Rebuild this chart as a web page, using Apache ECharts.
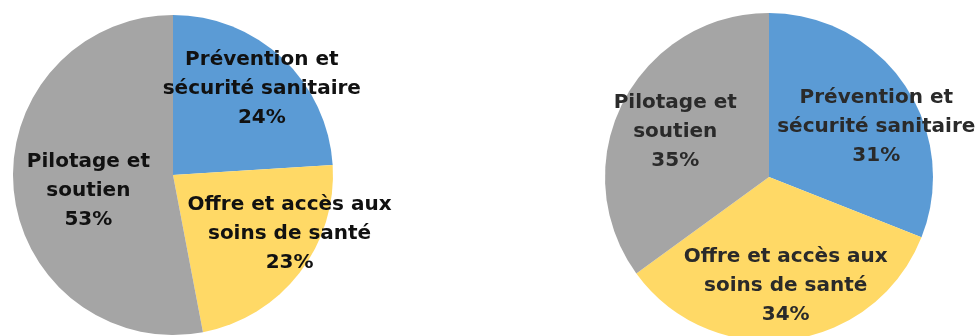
<!DOCTYPE html>
<html>
<head>
<meta charset="utf-8">
<script src="https://cdn.jsdelivr.net/npm/echarts@6/dist/echarts.min.js"></script>
<style>
  html, body { margin: 0; padding: 0; background: #ffffff; }
  #chart { width: 977px; height: 336px; }
</style>
</head>
<body>
<div id="chart"></div>
<script>
// Budget split by programme, two periods
const categories = ['Prévention et\nsécurité sanitaire', 'Offre et accès aux\nsoins de santé', 'Pilotage et\nsoutien'];
const leftValues = [24, 23, 53];
const rightValues = [31, 34, 35];
const colors = ['#5B9BD5', '#FFD966', '#A5A5A5'];

// label nudges from the default inside position, per slice
const leftShift = [[32, -26], [51, 8], [-2, 8]];
const rightShift = [[37, -2], [6, 24], [-18, -7]];

function buildPie(values, center, radius, textColor, shift) {
  return {
    type: 'pie',
    center: center,
    radius: radius,
    startAngle: 90,
    clockwise: true,
    silent: true,
    animation: false,
    itemStyle: { borderWidth: 0 },
    label: {
      show: true,
      position: 'inside',
      formatter: p => p.name + '\n' + p.value + '%',
      color: textColor,
      fontFamily: '"DejaVu Sans"',
      fontWeight: 'bold',
      fontSize: 20,
      lineHeight: 29,
      align: 'center'
    },
    labelLine: { show: false },
    labelLayout: p => ({ dx: shift[p.dataIndex][0], dy: shift[p.dataIndex][1] }),
    data: categories.map((c, i) => ({ name: c, value: values[i], itemStyle: { color: colors[i] } }))
  };
}

const chart = echarts.init(document.getElementById('chart'), null, { renderer: 'canvas' });
chart.setOption({
  backgroundColor: '#ffffff',
  series: [
    buildPie(leftValues, [173, 175], 160, '#111111', leftShift),
    buildPie(rightValues, [769, 177], 164, '#2a2a2a', rightShift)
  ]
});
</script>
</body>
</html>
